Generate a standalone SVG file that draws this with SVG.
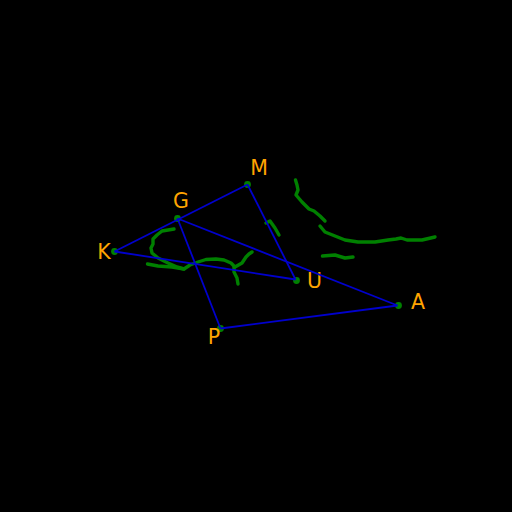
<svg xmlns="http://www.w3.org/2000/svg" width="512" height="512" viewBox="0 0 512 512">
<style>
.n{fill:#008000}
.e{stroke:#0000cd;stroke-width:1.8;fill:none}
.s{stroke:#008000;stroke-width:3.4;fill:none;stroke-linecap:round;stroke-linejoin:round}
text{font-family:"DejaVu Sans",sans-serif;font-size:20.5px;fill:#ffa500;text-anchor:middle}
</style>
<rect width="512" height="512" fill="#000"/>
<g id="strokes">
<path class="s" d="M174 229L168 230L162 231L157 235L153 239L153 244L151 248L152 253L158 258L168 263L177 267L184 269L190 265L198 262L206 259.500L216 259L224 260L231 263L235 267L242 263L246 257L249 254L252 252"/>
<path class="s" d="M147.500 264L158 266L172 267L184 269"/>
<path class="s" d="M234 267L234 272L237 278L238 284"/>
<path class="s" d="M295.500 180L297 185L298 190L296 195L302 202L309 209L314 211L320 216L325 221"/>
<path class="s" d="M320 226L325 232L335 236L345 240L358 242L375 242L388 240L396 239L401 238L407 240L422 240L435 237"/>
<path class="s" d="M266 223L270 221L275 228L279 235"/>
<path class="s" d="M322.500 256L335 255L345 258L353 257"/>
</g>
<g id="node-K"><circle class="n" cx="114.500" cy="251.500" r="3.400"/><text x="104" y="259">K</text></g>
<g id="node-G"><circle class="n" cx="177.500" cy="218.500" r="3.400"/><text x="181" y="208">G</text></g>
<g id="node-M"><circle class="n" cx="247.500" cy="184.500" r="3.400"/><text x="259" y="175">M</text></g>
<g id="node-U"><circle class="n" cx="296.500" cy="280.500" r="3.400"/><text x="314.500" y="288">U</text></g>
<g id="node-A"><circle class="n" cx="398.500" cy="305.500" r="3.400"/><text x="418" y="309">A</text></g>
<g id="node-P"><circle class="n" cx="220.500" cy="328.500" r="3.400"/><text x="214" y="344">P</text></g>
<g id="connectors">
<line class="e" x1="114.500" y1="251.500" x2="247.500" y2="184.500"/>
<line class="e" x1="177.500" y1="218.500" x2="220.500" y2="328.500"/>
<line class="e" x1="177.500" y1="218.500" x2="397.500" y2="305.500"/>
<line class="e" x1="114.500" y1="251.500" x2="295.500" y2="279.500"/>
<line class="e" x1="247.500" y1="184.500" x2="295.500" y2="279.500"/>
<line class="e" x1="220.500" y1="328.500" x2="397.500" y2="305.500"/>
</g>
</svg>
